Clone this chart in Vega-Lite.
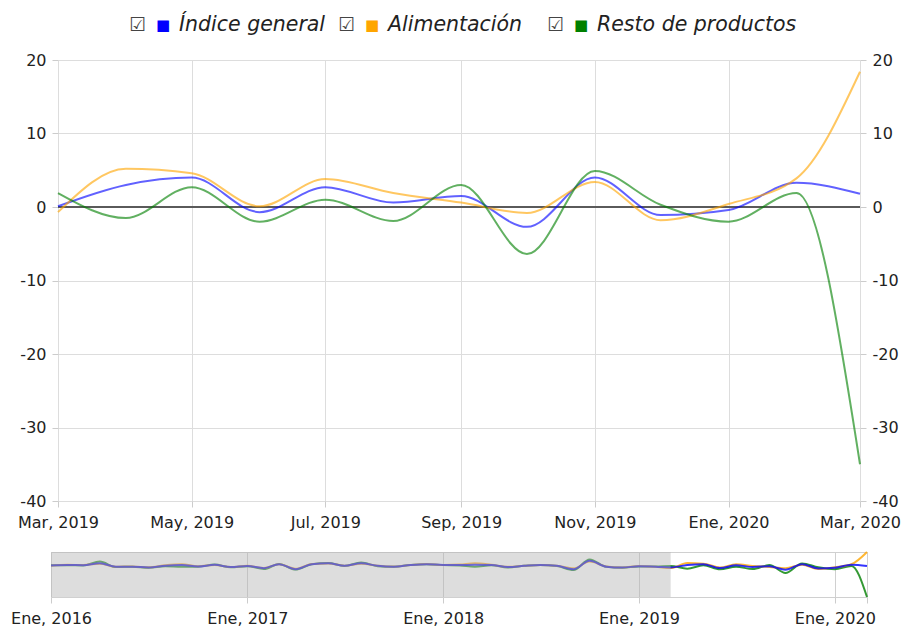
{
  "$schema": "https://vega.github.io/schema/vega-lite/v6.json",
  "padding": {"left": 10, "top": 4, "right": 2, "bottom": 2},
  "background": "white",
  "config": {
    "font": "DejaVu Sans",
    "view": {"stroke": null},
    "axis": {"labelFont": "DejaVu Sans", "labelColor": "#222222", "labelFontSize": 16}
  },
  "datasets": {
    "ipc": [
      {"fecha": "2016-01-01", "Índice general": 2.5, "Alimentación": 2.0, "Resto de productos": 2.8},
      {"fecha": "2016-02-01", "Índice general": 3.0, "Alimentación": 3.2, "Resto de productos": 2.8},
      {"fecha": "2016-03-01", "Índice general": 2.8, "Alimentación": 3.0, "Resto de productos": 2.5},
      {"fecha": "2016-04-01", "Índice general": 5.0, "Alimentación": 4.5, "Resto de productos": 7.0},
      {"fecha": "2016-05-01", "Índice general": 0.8, "Alimentación": 1.0, "Resto de productos": 0.5},
      {"fecha": "2016-06-01", "Índice general": 1.0, "Alimentación": 1.2, "Resto de productos": 1.0},
      {"fecha": "2016-07-01", "Índice general": 0.0, "Alimentación": 0.2, "Resto de productos": -0.3},
      {"fecha": "2016-08-01", "Índice general": 2.2, "Alimentación": 2.8, "Resto de productos": 1.5},
      {"fecha": "2016-09-01", "Índice general": 3.0, "Alimentación": 4.0, "Resto de productos": 1.0},
      {"fecha": "2016-10-01", "Índice general": 1.2, "Alimentación": 1.5, "Resto de productos": 1.0},
      {"fecha": "2016-11-01", "Índice general": 3.2, "Alimentación": 3.0, "Resto de productos": 3.5},
      {"fecha": "2016-12-01", "Índice general": 0.5, "Alimentación": 0.5, "Resto de productos": 0.2},
      {"fecha": "2017-01-01", "Índice general": 1.8, "Alimentación": 2.0, "Resto de productos": 1.5},
      {"fecha": "2017-02-01", "Índice general": -0.8, "Alimentación": -0.5, "Resto de productos": -1.8},
      {"fecha": "2017-03-01", "Índice general": 4.0, "Alimentación": 3.8, "Resto de productos": 4.2},
      {"fecha": "2017-04-01", "Índice general": -2.0, "Alimentación": -1.5, "Resto de productos": -2.5},
      {"fecha": "2017-05-01", "Índice general": 4.0, "Alimentación": 4.2, "Resto de productos": 3.8},
      {"fecha": "2017-06-01", "Índice general": 5.0, "Alimentación": 4.8, "Resto de productos": 5.2},
      {"fecha": "2017-07-01", "Índice general": 2.0, "Alimentación": 2.2, "Resto de productos": 1.8},
      {"fecha": "2017-08-01", "Índice general": 5.0, "Alimentación": 4.5, "Resto de productos": 6.0},
      {"fecha": "2017-09-01", "Índice general": 2.0, "Alimentación": 2.2, "Resto de productos": 1.5},
      {"fecha": "2017-10-01", "Índice general": 1.0, "Alimentación": 1.2, "Resto de productos": 0.8},
      {"fecha": "2017-11-01", "Índice general": 3.0, "Alimentación": 3.0, "Resto de productos": 3.0},
      {"fecha": "2017-12-01", "Índice general": 4.0, "Alimentación": 4.2, "Resto de productos": 3.8},
      {"fecha": "2018-01-01", "Índice general": 3.0, "Alimentación": 3.0, "Resto de productos": 3.0},
      {"fecha": "2018-02-01", "Índice general": 3.0, "Alimentación": 3.5, "Resto de productos": 2.5},
      {"fecha": "2018-03-01", "Índice general": 3.2, "Alimentación": 5.0, "Resto de productos": 1.0},
      {"fecha": "2018-04-01", "Índice general": 3.0, "Alimentación": 3.2, "Resto de productos": 2.8},
      {"fecha": "2018-05-01", "Índice general": 0.5, "Alimentación": 0.8, "Resto de productos": 0.0},
      {"fecha": "2018-06-01", "Índice general": 2.0, "Alimentación": 2.0, "Resto de productos": 2.0},
      {"fecha": "2018-07-01", "Índice general": 3.0, "Alimentación": 3.0, "Resto de productos": 3.0},
      {"fecha": "2018-08-01", "Índice general": 2.0, "Alimentación": 2.2, "Resto de productos": 1.8},
      {"fecha": "2018-09-01", "Índice general": -2.0, "Alimentación": -1.0, "Resto de productos": -3.0},
      {"fecha": "2018-10-01", "Índice general": 8.0, "Alimentación": 7.0, "Resto de productos": 9.5},
      {"fecha": "2018-11-01", "Índice general": 1.0, "Alimentación": 1.2, "Resto de productos": 0.8},
      {"fecha": "2018-12-01", "Índice general": 0.0, "Alimentación": 0.0, "Resto de productos": -0.2},
      {"fecha": "2019-01-01", "Índice general": 1.5, "Alimentación": 1.8, "Resto de productos": 1.2},
      {"fecha": "2019-02-01", "Índice general": 1.0, "Alimentación": 0.8, "Resto de productos": 1.2},
      {"fecha": "2019-03-01", "Índice general": 0.1, "Alimentación": -0.7, "Resto de productos": 1.9},
      {"fecha": "2019-04-01", "Índice general": 3.0, "Alimentación": 5.2, "Resto de productos": -1.5},
      {"fecha": "2019-05-01", "Índice general": 4.0, "Alimentación": 4.6, "Resto de productos": 2.7},
      {"fecha": "2019-06-01", "Índice general": -0.7, "Alimentación": 0.1, "Resto de productos": -2.0},
      {"fecha": "2019-07-01", "Índice general": 2.7, "Alimentación": 3.8, "Resto de productos": 1.0},
      {"fecha": "2019-08-01", "Índice general": 0.6, "Alimentación": 1.9, "Resto de productos": -1.9},
      {"fecha": "2019-09-01", "Índice general": 1.5, "Alimentación": 0.6, "Resto de productos": 3.0},
      {"fecha": "2019-10-01", "Índice general": -2.7, "Alimentación": -0.8, "Resto de productos": -6.4},
      {"fecha": "2019-11-01", "Índice general": 4.0, "Alimentación": 3.4, "Resto de productos": 4.9},
      {"fecha": "2019-12-01", "Índice general": -1.1, "Alimentación": -1.8, "Resto de productos": 0.3},
      {"fecha": "2020-01-01", "Índice general": -0.4, "Alimentación": 0.4, "Resto de productos": -2.0},
      {"fecha": "2020-02-01", "Índice general": 3.3, "Alimentación": 3.9, "Resto de productos": 1.9},
      {"fecha": "2020-03-01", "Índice general": 1.8, "Alimentación": 18.4, "Resto de productos": -35.0}
    ],
    "leyenda": [
      {"serie": "Índice general"},
      {"serie": "Alimentación"},
      {"serie": "Resto de productos"}
    ],
    "seleccion": [
      {"desde": "2016-01-01", "hasta": "2019-03-01"}
    ]
  },
  "bounds": "flush",
  "spacing": 14,
  "vconcat": [
    {
      "width": 802,
      "height": 42,
      "data": {"name": "leyenda"},
      "layer": [
        {
          "mark": {"type": "text", "text": "☑", "align": "left", "baseline": "middle", "fontSize": 19, "color": "#444444"},
          "encoding": {
            "x": {"field": "serie", "type": "nominal", "scale": {"type": "point", "padding": 0, "domain": ["Índice general", "Alimentación", "Resto de productos"], "range": [78, 496]}, "axis": null}
          }
        },
        {
          "mark": {"type": "text", "text": "■", "align": "left", "baseline": "middle", "dx": 27, "fontSize": 15},
          "encoding": {
            "x": {"field": "serie", "type": "nominal", "scale": {"type": "point", "padding": 0, "domain": ["Índice general", "Alimentación", "Resto de productos"], "range": [78, 496]}, "axis": null},
            "color": {"field": "serie", "type": "nominal", "scale": {"domain": ["Índice general", "Alimentación", "Resto de productos"], "range": ["#0000ff", "#ffa500", "#008000"]}, "legend": null}
          }
        },
        {
          "mark": {"type": "text", "align": "left", "baseline": "middle", "dx": 50, "fontSize": 20.5, "fontStyle": "italic", "color": "#222222"},
          "encoding": {
            "x": {"field": "serie", "type": "nominal", "scale": {"type": "point", "padding": 0, "domain": ["Índice general", "Alimentación", "Resto de productos"], "range": [78, 496]}, "axis": null},
            "text": {"field": "serie", "type": "nominal"}
          }
        }
      ]
    },
    {
      "bounds": "flush",
      "center": true,
      "spacing": 51,
      "vconcat": [
        {
          "width": 802,
          "height": 441,
          "layer": [
            {
              "data": {"values": [{}]},
              "mark": {"type": "rule", "color": "#5a5a5a", "strokeWidth": 2},
              "encoding": {
                "y": {"datum": 0, "type": "quantitative", "scale": {"domain": [-40, 20], "nice": false},
                  "axis": {"orient": "right", "values": [-40, -30, -20, -10, 0, 10, 20], "labelExpr": "toString(datum.value)", "title": null, "grid": false, "domain": false, "tickColor": "#cccccc", "tickSize": 6, "labelPadding": 6, "labelFontSize": 16}}
              }
            },
            {
              "data": {"name": "ipc"},
              "transform": [
                {"fold": ["Índice general", "Alimentación", "Resto de productos"], "as": ["serie", "valor"]},
                {"filter": "time(datum.fecha) >= utc(2019, 2, 1)"}
              ],
              "mark": {"type": "line", "interpolate": "monotone", "strokeWidth": 2, "opacity": 0.62},
              "encoding": {
                "x": {"field": "fecha", "type": "temporal",
                  "scale": {"type": "utc", "domain": [{"year": 2019, "month": 3, "date": 1, "utc": true}, {"year": 2020, "month": 3, "date": 1, "utc": true}]},
                  "axis": {"title": null, "values": [
                      {"year": 2019, "month": 3, "date": 1, "utc": true},
                      {"year": 2019, "month": 5, "date": 1, "utc": true},
                      {"year": 2019, "month": 7, "date": 1, "utc": true},
                      {"year": 2019, "month": 9, "date": 1, "utc": true},
                      {"year": 2019, "month": 11, "date": 1, "utc": true},
                      {"year": 2020, "month": 1, "date": 1, "utc": true},
                      {"year": 2020, "month": 3, "date": 1, "utc": true}],
                    "labelExpr": "['Ene','Feb','Mar','Abr','May','Jun','Jul','Ago','Sep','Oct','Nov','Dic'][utcmonth(datum.value)] + ', ' + utcyear(datum.value)",
                    "grid": true, "gridColor": "#dddddd", "domain": false, "tickColor": "#cccccc", "tickSize": 6, "labelPadding": 7,
                    "labelFlush": false, "labelOverlap": false, "labelBound": false, "labelFontSize": 16}},
                "y": {"field": "valor", "type": "quantitative", "scale": {"domain": [-40, 20], "nice": false},
                  "axis": {"orient": "left", "values": [-40, -30, -20, -10, 0, 10, 20], "labelExpr": "toString(datum.value)", "title": null, "grid": true, "gridColor": "#dddddd", "domain": false, "tickColor": "#cccccc", "tickSize": 6, "labelPadding": 6, "labelFontSize": 16}},
                "color": {"field": "serie", "type": "nominal", "scale": {"domain": ["Índice general", "Alimentación", "Resto de productos"], "range": ["#0000ff", "#ffa500", "#008000"]}, "legend": null}
              }
            }
          ],
          "resolve": {"scale": {"y": "independent"}}
        },
        {
          "width": 816,
          "height": 45,
          "view": {"stroke": "#d0d0d0"},
          "layer": [
            {
              "data": {"name": "ipc"},
              "transform": [
                {"fold": ["Resto de productos", "Alimentación", "Índice general"], "as": ["serie", "valor"]}
              ],
              "mark": {"type": "line", "interpolate": "monotone", "strokeWidth": 2, "opacity": 0.8},
              "encoding": {
                "x": {"field": "fecha", "type": "temporal",
                  "scale": {"type": "utc", "domain": [{"year": 2016, "month": 1, "date": 1, "utc": true}, {"year": 2020, "month": 3, "date": 1, "utc": true}]},
                  "axis": {"title": null, "values": [
                      {"year": 2016, "month": 1, "date": 1, "utc": true},
                      {"year": 2017, "month": 1, "date": 1, "utc": true},
                      {"year": 2018, "month": 1, "date": 1, "utc": true},
                      {"year": 2019, "month": 1, "date": 1, "utc": true},
                      {"year": 2020, "month": 1, "date": 1, "utc": true},
                      {"year": 2020, "month": 3, "date": 1, "utc": true}],
                    "labelExpr": "utcmonth(datum.value) == 0 ? 'Ene, ' + utcyear(datum.value) : ''",
                    "grid": true, "gridColor": "#d0d0d0", "domain": false, "tickColor": "#cccccc", "tickSize": 6, "labelPadding": 7,
                    "labelFlush": false, "labelOverlap": false, "labelBound": false, "labelFontSize": 16}},
                "y": {"field": "valor", "type": "quantitative", "scale": {"domain": [-35, 18.4], "nice": false, "zero": false}, "axis": null},
                "color": {"field": "serie", "type": "nominal", "scale": {"domain": ["Índice general", "Alimentación", "Resto de productos"], "range": ["#0000ff", "#ffa500", "#008000"]}, "legend": null}
              }
            },
            {
              "data": {"name": "seleccion"},
              "mark": {"type": "rect", "color": "#b4b4b4", "opacity": 0.45},
              "encoding": {
                "x": {"field": "desde", "type": "temporal"},
                "x2": {"field": "hasta"}
              }
            }
          ]
        }
      ]
    }
  ]
}
